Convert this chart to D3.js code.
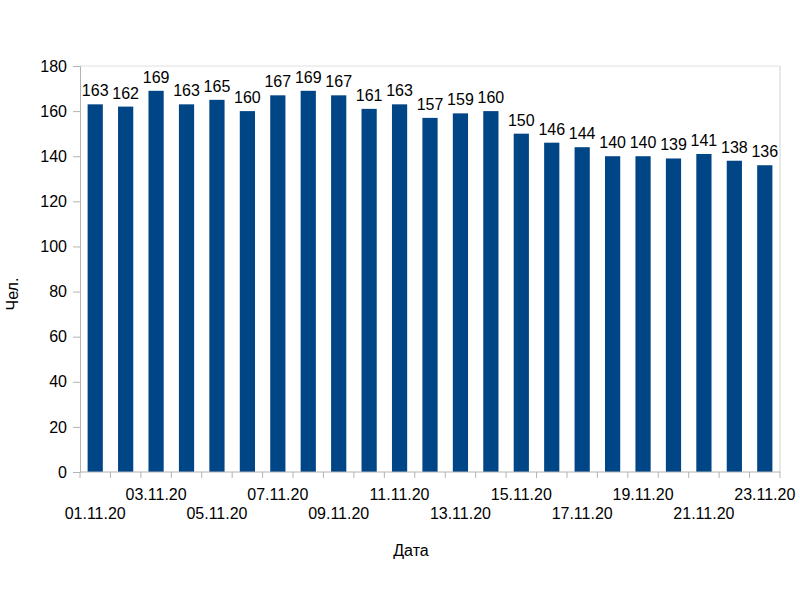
<!DOCTYPE html>
<html><head><meta charset="utf-8">
<script src="https://cdn.jsdelivr.net/npm/d3@7"></script>
<style>body{margin:0;background:#fff}svg text{font-family:"Liberation Sans",Arial,sans-serif}</style>
</head><body>
<svg id="c" width="800" height="600"></svg>
<script>
const dates = ["01.11.20","02.11.20","03.11.20","04.11.20","05.11.20","06.11.20","07.11.20","08.11.20","09.11.20","10.11.20","11.11.20","12.11.20","13.11.20","14.11.20","15.11.20","16.11.20","17.11.20","18.11.20","19.11.20","20.11.20","21.11.20","22.11.20","23.11.20"];
const values = [163,162,169,163,165,160,167,169,167,161,163,157,159,160,150,146,144,140,140,139,141,138,136];
const yTicks = [0,20,40,60,80,100,120,140,160,180];

const svg = d3.select("#c");
const L=80, R=780, T=66, B=472;
const x = d3.scaleBand().domain(dates).range([L,R]).paddingInner(0.5).paddingOuter(0.25);
const xb = d3.scaleBand().domain(dates).range([L,R]);
const y = d3.scaleLinear().domain([0,180]).range([B,T]);

// frame
svg.append("line").attr("x1",L).attr("x2",R).attr("y1",T).attr("y2",T).attr("stroke","#e0e0e0");
svg.append("line").attr("x1",R).attr("x2",R).attr("y1",T).attr("y2",B).attr("stroke","#d0d0d0");

// bars
svg.append("g").selectAll("rect").data(values).join("rect")
  .attr("x",(d,i)=>x(dates[i])).attr("width",x.bandwidth())
  .attr("y",d=>y(d)).attr("height",d=>B-y(d)).attr("fill","#004586");

// value labels
svg.append("g").selectAll("text").data(values).join("text")
  .attr("x",(d,i)=>xb(dates[i])+xb.bandwidth()/2).attr("y",d=>y(d)-8)
  .attr("text-anchor","middle").attr("font-size",16).attr("fill","#000").text(d=>d);

// y axis
const ya = svg.append("g").attr("transform",`translate(${L},0)`)
  .call(d3.axisLeft(y).tickValues(yTicks).tickSize(7).tickPadding(6));
ya.selectAll("path,line").attr("stroke","#b3b3b3");
ya.selectAll("text").attr("font-size",16).attr("fill","#000").attr("font-family","Liberation Sans, Arial, sans-serif");

// x axis
const xa = svg.append("g").attr("transform",`translate(0,${B})`);
xa.append("line").attr("x1",L).attr("x2",R).attr("stroke","#b3b3b3");
const bounds = dates.map(d=>xb(d)).concat([R]);
xa.selectAll("line.t").data(bounds).join("line").attr("class","t")
  .attr("x1",d=>d).attr("x2",d=>d).attr("y1",0).attr("y2",6).attr("stroke","#b3b3b3");
xa.selectAll("text").data(dates.filter((d,i)=>i%2===0)).join("text")
  .attr("x",d=>xb(d)+xb.bandwidth()/2)
  .attr("y",(d,i)=> i%2===0 ? 47 : 28)
  .attr("text-anchor","middle").attr("font-size",16).attr("fill","#000").text(d=>d);

// titles
svg.append("text").attr("x",411).attr("y",556).attr("text-anchor","middle").attr("font-size",16).text("Дата");
svg.append("text").attr("transform","translate(18,294) rotate(-90)").attr("text-anchor","middle").attr("font-size",16).text("Чел.");
</script>
</body></html>
